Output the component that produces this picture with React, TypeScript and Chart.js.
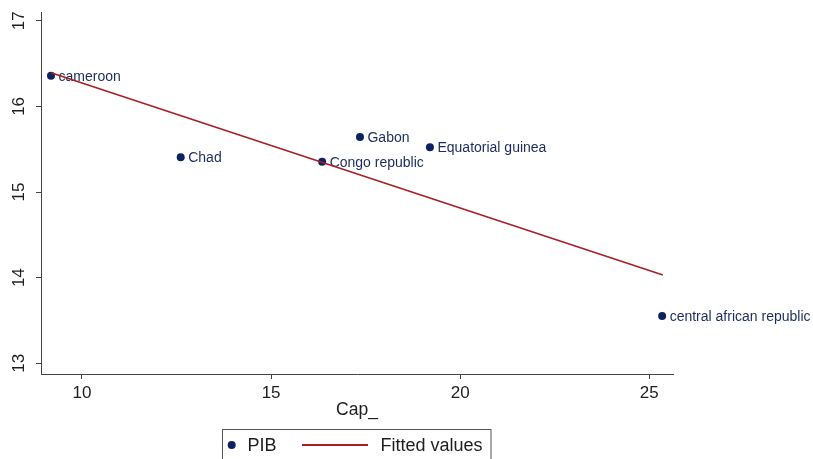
import React, { useEffect, useRef } from "react";
import { Chart, registerables } from "chart.js";

Chart.register(...registerables);

const countries = ["cameroon", "Chad", "Congo republic", "Gabon", "Equatorial guinea", "central african republic"];
const capValues = [9.18, 12.61, 16.35, 17.35, 19.2, 25.34];
const pibValues = [16.358, 15.405, 15.354, 15.642, 15.522, 13.553];
const fittedX = [9.18, 25.36];
const fittedY = [16.393, 14.03];
const xTicks = [10, 15, 20, 25];
const yTicks = [13, 14, 15, 16, 17];

const FONT = "'Liberation Sans', Arial, Helvetica, sans-serif";
const NAVY = "#0d2261";
const LABEL_NAVY = "#1b2c5e";
const RED = "#a81f24";
const AXIS = "#444444";
const TEXT = "#1e1e1e";

export default function App() {
  const ref = useRef<HTMLCanvasElement | null>(null);

  useEffect(() => {
    if (!ref.current) return;

    const labelsPlugin = {
      id: "pointLabels",
      beforeDatasetsDraw(chart: any) {
        const meta = chart.getDatasetMeta(1);
        const ctx = chart.ctx;
        ctx.save();
        ctx.font = `14px ${FONT}`;
        ctx.fillStyle = LABEL_NAVY;
        ctx.textAlign = "left";
        ctx.textBaseline = "middle";
        meta.data.forEach((pt: any, i: number) => {
          ctx.fillText(countries[i], pt.x + 7.5, pt.y + 1);
        });
        ctx.restore();
      },
    };

    const legendPlugin = {
      id: "customLegend",
      afterDraw(chart: any) {
        const ctx = chart.ctx;
        ctx.save();
        ctx.strokeStyle = "#555555";
        ctx.lineWidth = 1;
        ctx.strokeRect(222.5, 429.5, 268.5, 40);
        ctx.fillStyle = NAVY;
        ctx.beginPath();
        ctx.arc(231.7, 445, 4, 0, Math.PI * 2);
        ctx.fill();
        ctx.font = `18px ${FONT}`;
        ctx.fillStyle = TEXT;
        ctx.textAlign = "left";
        ctx.textBaseline = "middle";
        ctx.fillText("PIB", 247.5, 446);
        ctx.strokeStyle = RED;
        ctx.lineWidth = 2;
        ctx.beginPath();
        ctx.moveTo(302, 445);
        ctx.lineTo(368, 445);
        ctx.stroke();
        ctx.fillText("Fitted values", 380.5, 446);
        ctx.restore();
      },
    };

    const chart = new Chart(ref.current, {
      type: "scatter",
      data: {
        datasets: [
          {
            label: "Fitted values",
            data: fittedX.map((x, i) => ({ x, y: fittedY[i] })),
            showLine: true,
            borderColor: RED,
            borderWidth: 1.6,
            pointRadius: 0,
            pointHoverRadius: 0,
          } as any,
          {
            label: "PIB",
            data: capValues.map((x, i) => ({ x, y: pibValues[i] })),
            backgroundColor: NAVY,
            borderColor: NAVY,
            pointRadius: 4,
            pointBorderWidth: 0,
          },
        ],
      },
      options: {
        responsive: false,
        animation: false,
        events: [],
        layout: { padding: { top: 12, right: 140, left: 0, bottom: 0 } },
        plugins: {
          legend: { display: false },
          tooltip: { enabled: false },
        },
        scales: {
          x: {
            type: "linear",
            min: 8.916,
            max: 25.627,
            afterBuildTicks: (axis: any) => {
              axis.ticks = xTicks.map((v) => ({ value: v }));
            },
            afterFit: (axis: any) => {
              axis.height = 85;
              axis.paddingLeft = 0;
              axis.paddingRight = 0;
            },
            grid: {
              drawOnChartArea: false,
              drawTicks: true,
              tickLength: 5,
              color: AXIS,
            },
            border: { display: true, color: AXIS, width: 1 },
            ticks: {
              color: TEXT,
              font: { family: FONT, size: 17 },
              padding: 4,
              maxRotation: 0,
              minRotation: 0,
            },
            title: {
              display: true,
              text: "Cap_",
              color: TEXT,
              font: { family: FONT, size: 17.5 },
              padding: { top: 0, bottom: 38.5 },
            },
          },
          y: {
            type: "linear",
            min: 12.875,
            max: 17.102,
            afterBuildTicks: (axis: any) => {
              axis.ticks = yTicks.map((v) => ({ value: v }));
            },
            afterFit: (axis: any) => {
              axis.width = 41;
              axis.paddingTop = 0;
              axis.paddingBottom = 0;
            },
            grid: {
              drawOnChartArea: false,
              drawTicks: true,
              tickLength: 5,
              color: AXIS,
            },
            border: { display: true, color: AXIS, width: 1 },
            ticks: {
              color: TEXT,
              font: { family: FONT, size: 17 },
              padding: 7,
              minRotation: 90,
              maxRotation: 90,
              crossAlign: "center",
            },
          },
        },
      },
      plugins: [labelsPlugin, legendPlugin],
    } as any);

    return () => chart.destroy();
  }, []);

  return (
    <div style={{ position: "fixed", left: 0, top: 0, width: 813, height: 459, background: "#ffffff" }}>
      <canvas ref={ref} width={813} height={459} style={{ display: "block" }} />
    </div>
  );
}
